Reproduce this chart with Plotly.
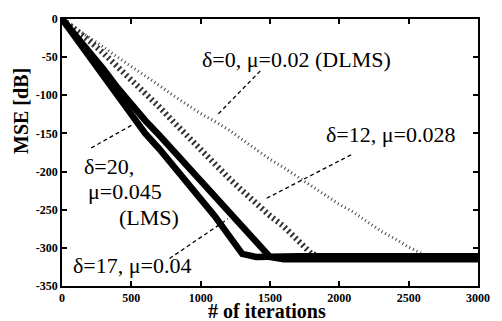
import plotly.graph_objects as go

# ---- data ----
iterations = list(range(0, 3001, 100))

mse_lms_d20 = [0, -25, -50, -76, -102, -128, -150, -170, -192, -213, -235, -258, -283, -308, -312,
               -311, -311, -311, -311, -311, -311, -311, -311, -311, -311, -311, -311, -311, -311, -311, -311]
mse_d17 = [0, -21, -43, -66, -90, -112, -133, -152, -172, -192, -212, -232, -253, -272, -292, -312,
           -315, -315, -315, -315, -315, -315, -315, -315, -315, -315, -315, -315, -315, -315, -315]
mse_d12 = [0, -14, -29, -45, -62, -79, -96, -115, -134, -153, -172, -190, -208, -225, -242, -258,
           -272, -290, -308, -313, -313, -313, -313, -313, -313, -313, -313, -313, -313, -313, -313]
mse_dlms = [0, -12, -24, -37, -50, -62, -75, -87, -100, -112, -124, -134, -145, -158, -171, -184,
            -195, -207, -219, -232, -243, -253, -265, -278, -288, -299, -308, -312, -313, -313, -313]

x_ticks = [0, 500, 1000, 1500, 2000, 2500, 3000]
y_ticks = [0, -50, -100, -150, -200, -250, -300, -350]

FONT = "Liberation Serif"

fig = go.Figure()
fig.add_trace(go.Scatter(x=iterations, y=mse_dlms, mode="lines",
                         line=dict(color="#444444", width=3, dash="1px,3px"), name="DLMS"))
fig.add_trace(go.Scatter(x=iterations, y=mse_d12, mode="lines",
                         line=dict(color="#333333", width=6, dash="2px,3px"), name="d12"))
fig.add_trace(go.Scatter(x=iterations, y=mse_d17, mode="lines",
                         line=dict(color="black", width=6.5), name="d17"))
fig.add_trace(go.Scatter(x=iterations, y=mse_lms_d20, mode="lines",
                         line=dict(color="black", width=6.5), name="LMS"))

# labels: (text, x, y, xanchor)
labels = [
    ("δ=0, μ=0.02 (DLMS)", 1690, -53, "center"),
    ("δ=12, μ=0.028", 2366, -152, "center"),
    ("δ=20,", 141, -194, "left"),
    ("μ=0.045", 176, -226, "left"),
    ("(LMS)", 394, -260, "left"),
    ("δ=17, μ=0.04", 507, -323, "center"),
]
for t, lx, ly, xa in labels:
    fig.add_annotation(x=lx, y=ly, text=t, showarrow=False, xanchor=xa, yanchor="middle",
                       font=dict(family=FONT, size=22, color="black"))

leaders = [
    (1430, -68, 1113, -127),
    (2085, -178, 1465, -236),
    (211, -169, 514, -138),
    (775, -314, 1197, -262),
]
for x0, y0, x1, y1 in leaders:
    fig.add_shape(type="line", x0=x0, y0=y0, x1=x1, y1=y1, xref="x", yref="y",
                  line=dict(color="black", width=1.3, dash="4px,3px"))

fig.add_annotation(x=-0.1, y=0.657, xref="paper", yref="paper", text="MSE [dB]",
                   showarrow=False, textangle=-90, xanchor="center", yanchor="middle",
                   font=dict(family=FONT, size=20, color="black", weight="bold"))
fig.add_annotation(x=0.493, y=-0.092, xref="paper", yref="paper", text="# of iterations",
                   showarrow=False, xanchor="center", yanchor="middle",
                   font=dict(family=FONT, size=20, color="black", weight="bold"))

axis_common = dict(showline=True, linecolor="black", linewidth=1.5, mirror="ticks",
                   ticks="inside", ticklen=5, tickwidth=1.5, tickcolor="black",
                   showgrid=False, zeroline=False, ticklabeloverflow="allow",
                   tickfont=dict(family=FONT, size=12, color="black", weight="bold"))

fig.update_xaxes(range=[0, 3000], tickvals=x_ticks, ticktext=[str(v) for v in x_ticks], **axis_common)
fig.update_yaxes(range=[-350, 0], tickvals=y_ticks, ticktext=[str(v) for v in y_ticks], **axis_common)

fig.update_layout(width=502, height=321, margin=dict(l=62, r=14, t=15, b=35),
                  paper_bgcolor="white", plot_bgcolor="white", showlegend=False)

fig.write_html("out.html", config={"displayModeBar": False},
               post_script="document.body.style.margin='0';document.body.style.overflow='hidden';")
